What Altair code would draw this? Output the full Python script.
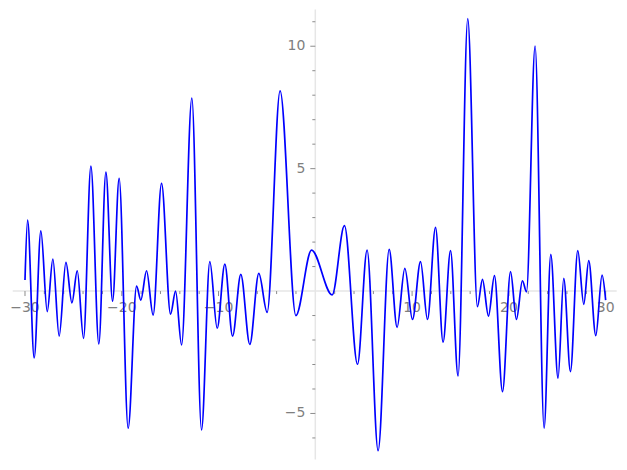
import altair as alt
import pandas as pd

# curve samples (local extrema)
xs = [-30.0, -29.73, -29.05, -28.36, -27.7, -27.12, -26.47, -25.77, -25.15, -24.6,
      -23.95, -23.19, -22.37, -21.64, -20.95, -20.27, -19.34, -18.47, -18.03, -17.44,
      -16.76, -15.89, -14.96, -14.44, -13.82, -12.76, -11.76, -10.9, -10.14, -9.35,
      -8.55, -7.7, -6.77, -5.84, -4.98, -3.64, -2.01, -0.39, 1.74, 3.01,
      4.36, 5.35, 6.49, 7.63, 8.45, 9.25, 10.04, 10.87, 11.59, 12.42,
      13.2, 13.97, 14.75, 15.75, 16.75, 17.27, 17.89, 18.51, 19.34, 20.17,
      20.78, 21.4, 21.82, 22.71, 23.64, 24.33, 25.08, 25.67, 26.36, 27.12,
      27.74, 28.25, 28.98, 29.63, 30.0]
ys = [0.45, 2.9, -2.73, 2.46, -0.84, 1.31, -1.84, 1.17, -0.48, 0.83,
      -1.93, 5.1, -2.16, 4.86, -0.41, 4.6, -5.6, 0.2, -0.37, 0.83,
      -0.98, 4.4, -0.94, 0.0, -2.2, 7.88, -5.67, 1.2, -1.52, 1.1,
      -1.84, 0.68, -2.18, 0.72, -0.87, 8.18, -1.0, 1.67, -0.16, 2.67,
      -2.99, 1.67, -6.52, 1.7, -1.48, 0.93, -1.16, 1.2, -1.16, 2.6,
      -2.09, 1.65, -3.47, 11.13, -0.64, 0.48, -1.02, 0.63, -4.11, 0.79,
      -1.16, 0.42, -0.03, 10.01, -5.6, 1.5, -3.56, 0.52, -3.29, 1.65,
      -0.54, 1.24, -1.82, 0.65, -0.37]

x_domain = [-31.27, 31.14]
y_domain = [-6.88, 11.5]

x_major = [-30, -20, -10, 10, 20, 30]
x_minor = [v for v in range(-30, 31, 2) if v % 10 != 0]
y_major = [-5, 5, 10]
y_minor = [v for v in range(-6, 12) if v % 5 != 0]

x_labels = ["\u221230", "\u221220", "\u221210", "10", "20", "30"]
y_labels = ["\u22125", "5", "10"]

xs_scale = alt.Scale(domain=x_domain, nice=False, zero=False)
ys_scale = alt.Scale(domain=y_domain, nice=False, zero=False)

axis_col = "#e6e6e6"
tick_col = "#8c8c8c"
lab_col = "#7f7f7f"

X = lambda f: alt.X(f, type="quantitative", scale=xs_scale, axis=None)
Y = lambda f: alt.Y(f, type="quantitative", scale=ys_scale, axis=None)

curve = alt.Chart(pd.DataFrame({"x": xs, "y": ys})).mark_line(
    color="#0000ff", strokeWidth=1.7, interpolate="monotone"
).encode(x=X("x"), y=Y("y"))

zero = pd.DataFrame({"x": [0], "y": [0]})
xaxis = alt.Chart(zero).mark_rule(color=axis_col, strokeWidth=1.5).encode(y=Y("y"))
yaxis = alt.Chart(zero).mark_rule(color=axis_col, strokeWidth=1.5).encode(x=X("x"))


def xticks(vals, length):
    df = pd.DataFrame({"x": vals, "y": [0] * len(vals)})
    return alt.Chart(df).mark_rule(color=tick_col, strokeWidth=1, y2Offset=length).encode(
        x=X("x"), y=Y("y"), y2="y")


def yticks(vals, length):
    df = pd.DataFrame({"y": vals, "x": [0] * len(vals)})
    return alt.Chart(df).mark_rule(color=tick_col, strokeWidth=1, x2Offset=-length).encode(
        y=Y("y"), x=X("x"), x2="x")


xlab = alt.Chart(pd.DataFrame({"x": x_major, "y": [0] * len(x_major), "t": x_labels})).mark_text(
    color=lab_col, font="DejaVu Sans", fontSize=14, align="center",
    baseline="alphabetic", dy=21
).encode(x=X("x"), y=Y("y"), text="t:N")
ylab = alt.Chart(pd.DataFrame({"y": y_major, "x": [0] * len(y_major), "t": y_labels})).mark_text(
    color=lab_col, font="DejaVu Sans", fontSize=14, align="right",
    baseline="middle", dx=-10
).encode(y=Y("y"), x=X("x"), text="t:N")

chart = alt.layer(
    xaxis, yaxis, xticks(x_minor, 3), xticks(x_major, 5),
    yticks(y_minor, 3), yticks(y_major, 5), xlab, ylab, curve
).properties(
    width=604, height=450,
    padding={"left": 4.7, "top": 1.5, "right": 0, "bottom": 0},
    autosize=alt.AutoSizeParams(type="none"),
).configure_view(stroke=None)

chart.save("out.html", embed_options={"renderer": "svg", "actions": False})
